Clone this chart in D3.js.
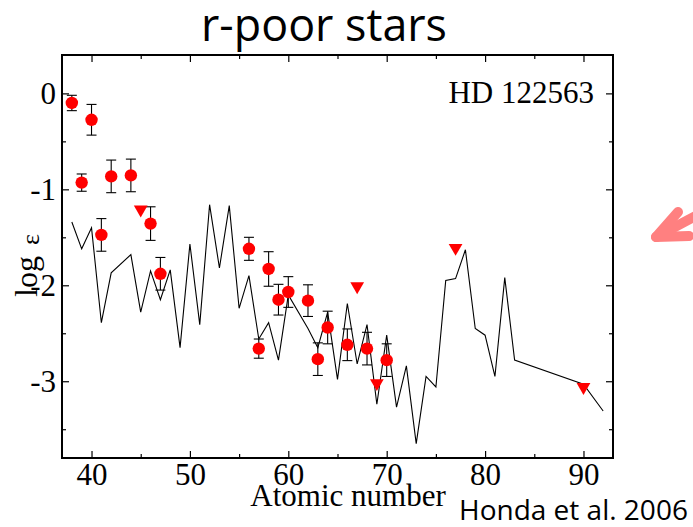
<!DOCTYPE html>
<html>
<head>
<meta charset="utf-8">
<script src="https://cdn.jsdelivr.net/npm/d3@7"></script>
<style>
  html, body { margin: 0; padding: 0; background: #fff; }
  svg { display: block; }
</style>
</head>
<body>
<svg id="chart" width="693" height="527"></svg>
<script>
// ---- Data ----
const modelZ   = [38,39,40,41,42,44,45,46,47,48,49,50,51,52,53,54,55,56,57,58,59,60,62,63,64,65,66,67,68,69,70,71,72,73,74,75,76,77,78,79,80,81,82,83,90,92];
const modelVal = [-1.34,-1.62,-1.40,-2.39,-1.87,-1.68,-2.28,-1.85,-2.15,-1.84,-2.65,-1.57,-2.41,-1.16,-1.82,-1.17,-2.24,-1.90,-2.56,-2.39,-2.78,-2.10,-2.45,-2.65,-2.28,-2.98,-2.19,-2.82,-2.41,-3.24,-2.52,-3.27,-2.84,-3.65,-2.95,-3.06,-1.95,-1.93,-1.63,-2.45,-2.52,-2.95,-1.92,-2.78,-3.03,-3.31];

const obsZ   = [38,39,40,41,42,44,46,47,56,57,58,59,60,62,63,64,66,68,70];
const obsVal = [-0.10,-0.93,-0.275,-1.475,-0.865,-0.855,-1.357,-1.88,-1.62,-2.66,-1.83,-2.15,-2.07,-2.16,-2.77,-2.44,-2.62,-2.66,-2.78];
const obsErr = [0.08,0.09,0.16,0.17,0.17,0.17,0.175,0.17,0.12,0.10,0.18,0.16,0.16,0.165,0.17,0.17,0.165,0.17,0.17];

const limZ   = [45,67,69,77,90];
const limVal = [-1.21,-2.01,-3.02,-1.61,-3.06];

const xMajorTicks = [40,50,60,70,80,90];
const xMinorTicks = [45,55,65,75,85];
const yMajorTicks = [0,-1,-2,-3];
const yMinorTicks = [-0.5,-1.5,-2.5,-3.5];

const titleText = "r-poor stars";
const starLabel = "HD 122563";
const xLabel = "Atomic number";
const creditText = "Honda et al. 2006";

// ---- Layout ----
const L = 62, R = 613, T = 55, B = 458;
const svg = d3.select("#chart");
const x = d3.scaleLinear().domain([37, 93]).range([L, R]);
const y = d3.scaleLinear().domain([-3.8, 0.4]).range([B, T]);

const serif = "'Liberation Serif', 'Times New Roman', serif";
const sans = "'Open Sans', 'DejaVu Sans', sans-serif";
const fmt = d => (d < 0 ? "-" + Math.abs(d) : String(d));

function fitText(sel, target) {
  const node = sel.node();
  const len = node.getComputedTextLength();
  const fs = parseFloat(sel.attr("font-size"));
  sel.attr("font-size", fs * target / len);
}

// ---- Model line ----
const lineData = modelZ.map((z, i) => [z, modelVal[i]]);
svg.append("path")
  .datum(lineData)
  .attr("fill", "none")
  .attr("stroke", "#000")
  .attr("stroke-width", 1.1)
  .attr("stroke-linejoin", "miter")
  .attr("d", d3.line().x(d => x(d[0])).y(d => y(d[1])));

// ---- Error bars ----
const obs = obsZ.map((z, i) => ({z, v: obsVal[i], e: obsErr[i]}));
const eb = svg.append("g").attr("stroke", "#000").attr("stroke-width", 1.1);
obs.forEach(d => {
  const cx = x(d.z), y1 = y(d.v + d.e), y2 = y(d.v - d.e);
  eb.append("line").attr("x1", cx).attr("x2", cx).attr("y1", y1).attr("y2", y2);
  eb.append("line").attr("x1", cx - 5).attr("x2", cx + 5).attr("y1", y1).attr("y2", y1);
  eb.append("line").attr("x1", cx - 5).attr("x2", cx + 5).attr("y1", y2).attr("y2", y2);
});

// ---- Circles ----
svg.append("g").selectAll("circle").data(obs).join("circle")
  .attr("cx", d => x(d.z)).attr("cy", d => y(d.v)).attr("r", 6.2)
  .attr("fill", "#ff0000");

// ---- Upper limits (down triangles) ----
const lims = limZ.map((z, i) => ({z, v: limVal[i]}));
svg.append("g").selectAll("path").data(lims).join("path")
  .attr("d", d3.symbol(d3.symbolTriangle, 82)())
  .attr("transform", d => `translate(${x(d.z)},${y(d.v)}) rotate(180)`)
  .attr("fill", "#ff0000");

// ---- Axes (box with inward ticks) ----
const axG = svg.append("g");
function addAxis(axisFn, scale, values, size, transform) {
  const a = axisFn(scale).tickValues(values).tickSizeInner(size).tickSizeOuter(0).tickFormat("");
  const g = axG.append("g").attr("transform", transform).call(a);
  g.select(".domain").remove();
  g.selectAll("line").attr("stroke", "#000").attr("stroke-width", 1.2);
  return g;
}
addAxis(d3.axisTop, x, xMajorTicks, 7, `translate(0,${B})`);
addAxis(d3.axisTop, x, xMinorTicks, 4, `translate(0,${B})`);
addAxis(d3.axisBottom, x, xMajorTicks, 7, `translate(0,${T})`);
addAxis(d3.axisBottom, x, xMinorTicks, 4, `translate(0,${T})`);
addAxis(d3.axisRight, y, yMajorTicks, 7, `translate(${L},0)`);
addAxis(d3.axisRight, y, yMinorTicks, 4, `translate(${L},0)`);
addAxis(d3.axisLeft, y, yMajorTicks, 7, `translate(${R},0)`);
addAxis(d3.axisLeft, y, yMinorTicks, 4, `translate(${R},0)`);

// tick labels
const xl = axG.append("g").attr("transform", `translate(0,${B})`)
  .call(d3.axisBottom(x).tickValues(xMajorTicks).tickSize(0).tickPadding(27).tickFormat(fmt));
xl.select(".domain").remove();
xl.selectAll("text").attr("font-family", serif).attr("font-size", 31).attr("fill", "#000").attr("dy", 0);
const yl = axG.append("g").attr("transform", `translate(${L},0)`)
  .call(d3.axisLeft(y).tickValues(yMajorTicks).tickSize(0).tickPadding(6).tickFormat(fmt));
yl.select(".domain").remove();
yl.selectAll("text").attr("font-family", serif).attr("font-size", 31).attr("fill", "#000").attr("dy", "0.34em");

// frame
svg.append("rect").attr("x", L).attr("y", T).attr("width", R - L).attr("height", B - T)
  .attr("fill", "none").attr("stroke", "#000").attr("stroke-width", 2);

// ---- Texts ----
const title = svg.append("text").attr("x", 324).attr("y", 41).attr("text-anchor", "middle")
  .attr("font-family", sans).attr("font-size", 44).attr("fill", "#000").text(titleText);
fitText(title, 246);

svg.append("text").attr("x", 594).attr("y", 103).attr("text-anchor", "end")
  .attr("font-family", serif).attr("font-size", 31).attr("fill", "#000").text(starLabel);

svg.append("text").attr("x", 348).attr("y", 506).attr("text-anchor", "middle")
  .attr("font-family", serif).attr("font-size", 31).attr("fill", "#000").text(xLabel);

const credit = svg.append("text").attr("x", 459).attr("y", 520)
  .attr("font-family", sans).attr("font-size", 28).attr("fill", "#000").text(creditText);
fitText(credit, 229);

const ylab = svg.append("text").attr("transform", "translate(37,297) rotate(-90)")
  .attr("font-family", serif).attr("font-size", 32).attr("fill", "#000");
ylab.append("tspan").text("log");
ylab.append("tspan").attr("dx", 11).attr("dy", 2).attr("font-size", 26).text("ε");

// ---- Pink arrow (annotation) ----
const arrow = svg.append("g").attr("fill", "none").attr("stroke", "#ff8080")
  .attr("stroke-width", 10).attr("stroke-linecap", "round").attr("stroke-linejoin", "round");
arrow.append("path").attr("d", d3.line()([[678, 212], [656, 237], [689, 236]]));
arrow.append("path").attr("d", d3.line()([[656, 237], [705, 211]]));
</script>
</body>
</html>
